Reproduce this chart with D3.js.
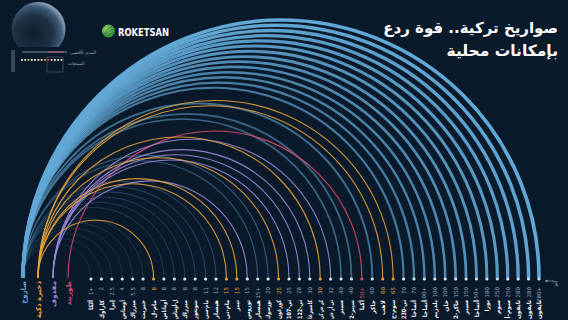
<!DOCTYPE html>
<html>
<head>
<meta charset="utf-8">
<script src="https://cdn.jsdelivr.net/npm/d3@7"></script>
<style>
  html, body { margin: 0; padding: 0; background: #0b1a2b; }
  svg { display: block; }
  text { font-family: "DejaVu Sans", "Noto Sans", sans-serif; }
</style>
</head>
<body>
<div id="chart"></div>
<script>
// categories (arc origins)
var categories = ["صاروخ", "ذخيرة ذكية", "مقذوف", "طوربيد"];
var catColors = ["#62a8d6", "#e9a23b", "#9a8ad8", "#dc4d6c"];

// products along the baseline (left to right)
var productNames = ["ألكا", "كاراوك", "إيرا", "أومتاس", "ميزراك", "جيريت", "مام-ل", "أوماتاس", "ل-أومتاس", "ميزراك",
  "سونغور", "مام-سي", "هيسار", "مام-تي", "تيبر", "توروس", "هيسار", "بورسوك", "كوزغون", "تي-107",
  "تي-122", "كاسيرغا", "كي جي كي", "تي آر جي", "سيبر", "سيبر-2", "أكيا", "جاكر", "لاهب", "سوم-ج",
  "تي-230", "أتماجا", "أتماجا", "يلدريم", "خان", "جاكر-2", "سيبر", "أتماجا", "بورا", "سوم",
  "سوم-أ", "تايفون", "تايفون", "تايفون"];
var productRanges = ["1+", "2", "2.5", "4", "5.5", "8", "8", "8", "8", "8",
  "8", "11", "12", "15", "15", "15", "15+", "20", "25", "25",
  "28", "30", "30", "32", "40", "40", "50+", "60", "60", "65",
  "70", "70", "100+", "100", "100", "150", "150", "150+", "180", "250",
  "250", "280", "280", "280+"];
// index into categories
var productTypes = [0, 0, 0, 0, 0, 0, 1, 0, 0, 0,
  0, 0, 0, 1, 1, 2, 0, 0, 1, 2,
  2, 2, 1, 2, 0, 0, 3, 0, 1, 1,
  0, 0, 0, 0, 0, 0, 0, 0, 0, 0,
  0, 0, 0, 0];

var title1 = "صواريخ تركية.. قوة ردع";
var title2 = "بإمكانات محلية";

var width = 568, height = 320;
var baseY = 278;

var svg = d3.select("#chart").append("svg")
  .attr("width", width)
  .attr("height", height);

svg.append("rect").attr("width", width).attr("height", height).attr("fill", "#0b1a2b");

var defs = svg.append("defs");
var globeGrad = defs.append("radialGradient").attr("id", "globe")
  .attr("cx", "40%").attr("cy", "60%").attr("r", "60%");
globeGrad.append("stop").attr("offset", 0).attr("stop-color", "#0f1e2d");
globeGrad.append("stop").attr("offset", 0.6).attr("stop-color", "#1f3247");
globeGrad.append("stop").attr("offset", 0.88).attr("stop-color", "#405d7a");
globeGrad.append("stop").attr("offset", 1).attr("stop-color", "#7d97ae");
defs.append("clipPath").attr("id", "globeClip")
  .append("rect").attr("x", 0).attr("y", 0).attr("width", 80).attr("height", 47);
var logoGrad = defs.append("radialGradient").attr("id", "logo")
  .attr("cx", "35%").attr("cy", "35%").attr("r", "70%");
logoGrad.append("stop").attr("offset", 0).attr("stop-color", "#8fd16a");
logoGrad.append("stop").attr("offset", 1).attr("stop-color", "#2f8c3a");

// scales
var x = d3.scalePoint().domain(d3.range(productNames.length)).range([91, 539]);
var xc = d3.scalePoint().domain(categories).range([23, 68]);
var strokeW = d3.scalePow().exponent(1.8).domain([0, productNames.length - 1]).range([0.6, 3.6]);
var opac = d3.scaleLinear().domain([0, 25, productNames.length - 1]).range([0.22, 0.55, 1]);

var products = productNames.map(function(n, i) {
  return {name: n, range: productRanges[i], type: productTypes[i], i: i};
});

// arcs
var arcG = svg.append("g");
function arcPath(d) {
  var x0 = xc(categories[d.type]), x1 = x(d.i);
  var r = (x1 - x0) / 2;
  return "M" + x0 + "," + baseY + "A" + r + "," + r + " 0 0 1 " + x1 + "," + baseY;
}
// blue first, coloured on top
var ordered = products.slice().sort(function(a, b) {
  return (a.type === 0 ? 0 : 1) - (b.type === 0 ? 0 : 1) || b.i - a.i;
});
arcG.selectAll("path")
  .data(ordered)
  .join("path")
    .attr("d", arcPath)
    .attr("fill", "none")
    .attr("stroke", function(d) { return catColors[d.type]; })
    .attr("stroke-width", function(d) { return d.type === 0 ? strokeW(d.i) : 1.1; })
    .attr("stroke-opacity", function(d) { return d.type === 0 ? opac(d.i) : 0.9; });

// dots
svg.append("g").selectAll("circle")
  .data(products)
  .join("circle")
    .attr("cx", function(d) { return x(d.i); })
    .attr("cy", baseY + 1)
    .attr("r", 1.6)
    .attr("fill", function(d) { return d.type === 0 || d.type === 2 ? "#d6e6f2" : catColors[d.type]; });

// range labels
svg.append("g").selectAll("text")
  .data(products)
  .join("text")
    .attr("transform", function(d) { return "translate(" + (x(d.i) + 2) + "," + (baseY + 9) + ") rotate(-90)"; })
    .attr("text-anchor", "end")
    .attr("font-size", 5.5)
    .attr("fill", function(d) { return d.type === 0 || d.type === 2 ? "#8ea5bb" : catColors[d.type]; })
    .text(function(d) { return d.range; });

// product names (capped so they stay inside the frame)
svg.append("g").selectAll("text")
  .data(products)
  .join("text")
    .attr("transform", function(d) { return "translate(" + (x(d.i) + 2.3) + "," + (baseY + 22) + ") rotate(-90)"; })
    .attr("text-anchor", "end")
    .attr("font-size", 6)
    .attr("font-weight", "bold")
    .attr("fill", "#f2f4f6")
    .text(function(d) { return d.name; })
    .each(function() {
      if (this.getComputedTextLength() > 19) {
        d3.select(this).attr("textLength", 19).attr("lengthAdjust", "spacingAndGlyphs");
      }
    });

// category labels
svg.append("g").selectAll("text")
  .data(categories)
  .join("text")
    .attr("transform", function(d) { return "translate(" + (xc(d) + 2.5) + "," + (baseY + 3) + ") rotate(-90)"; })
    .attr("text-anchor", "end")
    .attr("font-size", 7)
    .attr("font-weight", "bold")
    .attr("fill", function(d, i) { return catColors[i]; })
    .text(function(d) { return d; });

// unit marker
svg.append("line").attr("x1", 545).attr("x2", 553).attr("y1", baseY + 3).attr("y2", baseY + 3)
  .attr("stroke", "#8ea5bb").attr("stroke-width", 0.6);
svg.append("path").attr("d", "M545," + (baseY + 3) + "l2.5,-1.5v3z").attr("fill", "#8ea5bb");
svg.append("text").attr("transform", "translate(557," + (baseY + 2) + ") rotate(-90)")
  .attr("text-anchor", "end").attr("font-size", 6).attr("fill", "#8ea5bb").text("كم");

// title
svg.append("text").attr("x", 558).attr("y", 33).attr("text-anchor", "end")
  .attr("font-size", 15).attr("font-weight", "bold").attr("fill", "#ffffff")
  .text(title1);
svg.append("text").attr("x", 558).attr("y", 56).attr("text-anchor", "end")
  .attr("font-size", 15.5).attr("font-weight", "bold").attr("fill", "#ffffff")
  .text(title2);

// logo
svg.append("circle").attr("cx", 108.5).attr("cy", 31).attr("r", 6.5).attr("fill", "url(#logo)");
svg.append("path").attr("d", "M104,34 Q108,27 113,26 M104.5,35.5 Q109,30 113.5,29 M106,36.5 Q110,33 113.5,32.5")
  .attr("fill", "none").attr("stroke", "#1f5e27").attr("stroke-width", 0.6);
svg.append("text").attr("x", 118).attr("y", 35.5).attr("font-size", 11).attr("font-weight", "bold")
  .attr("font-family", "Roboto, sans-serif").attr("fill", "#ffffff")
  .attr("textLength", 51).attr("lengthAdjust", "spacingAndGlyphs").text("ROKETSAN");

// top-left globe and mini legend
svg.append("circle").attr("cx", 38.5).attr("cy", 29).attr("r", 27)
  .attr("fill", "url(#globe)").attr("clip-path", "url(#globeClip)");
svg.append("rect").attr("x", 11).attr("y", 50).attr("width", 4).attr("height", 22)
  .attr("fill", "#6e7f90").attr("opacity", 0.45);
svg.append("line").attr("x1", 22).attr("x2", 67).attr("y1", 52).attr("y2", 52)
  .attr("stroke", "#9aa8b6").attr("stroke-width", 0.8);
svg.append("line").attr("x1", 48).attr("x2", 64).attr("y1", 52).attr("y2", 52)
  .attr("stroke", "#c0607a").attr("stroke-width", 0.9);
svg.append("text").attr("x", 70).attr("y", 53.5).attr("font-size", 4.5).attr("fill", "#9aa8b6").text("المدى الأقصى");
svg.append("rect").attr("x", 47).attr("y", 57).attr("width", 16).attr("height", 15)
  .attr("fill", "none").attr("stroke", "#7d8c9b").attr("stroke-width", 0.4);
var miniCols = ["#e8e8d8", "#e8e8d8", "#d8c870", "#e8e8d8", "#e8e8d8", "#e8e8d8", "#e8e8d8", "#e9a23b", "#dc4d6c", "#e8e8d8", "#e8e8d8", "#e8e8d8", "#e8e8d8"];
svg.append("g").selectAll("rect")
  .data(miniCols)
  .join("rect")
    .attr("x", function(d, i) { return 21 + i * 3.3; })
    .attr("y", 59).attr("width", 1.8).attr("height", 1.8)
    .attr("fill", function(d) { return d; });
svg.append("text").attr("x", 68).attr("y", 65).attr("font-size", 4.5).attr("fill", "#9aa8b6").text("المنتجات");
</script>
</body>
</html>
